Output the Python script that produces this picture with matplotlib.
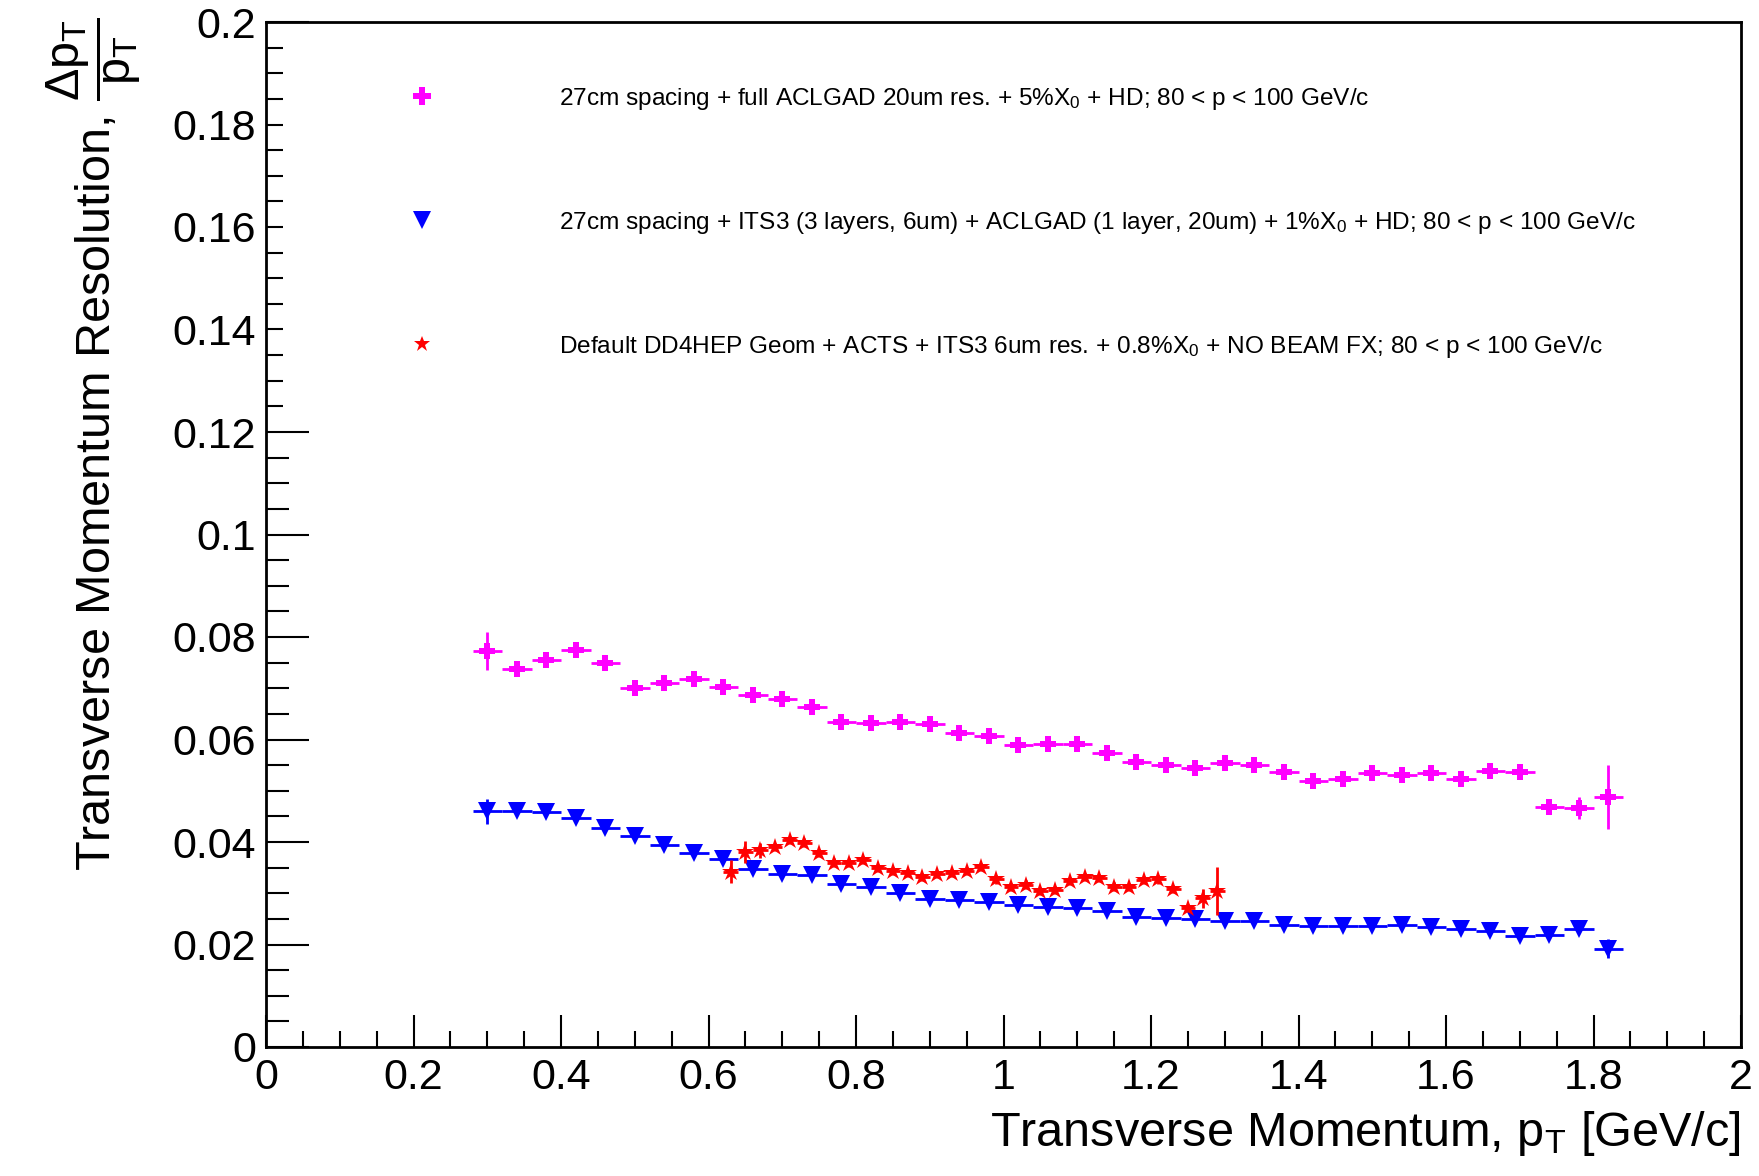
import matplotlib
matplotlib.use('Agg')
import matplotlib.pyplot as plt
from matplotlib.lines import Line2D
from matplotlib.patches import Rectangle
from matplotlib.ticker import FixedLocator, MultipleLocator

# ---------------- data ----------------
x_wide = [0.30, 0.34, 0.38, 0.42, 0.46, 0.50, 0.54, 0.58, 0.62, 0.66, 0.70, 0.74,
          0.78, 0.82, 0.86, 0.90, 0.94, 0.98, 1.02, 1.06, 1.10, 1.14, 1.18, 1.22,
          1.26, 1.30, 1.34, 1.38, 1.42, 1.46, 1.50, 1.54, 1.58, 1.62, 1.66, 1.70,
          1.74, 1.78, 1.82]
halfbin_wide = 0.02

acl_y = [0.0773, 0.0737, 0.0755, 0.0775, 0.0750, 0.0700, 0.0711, 0.0719, 0.0702,
         0.0687, 0.0680, 0.0664, 0.0635, 0.0633, 0.0634, 0.0630, 0.0612, 0.0607,
         0.0589, 0.0591, 0.0591, 0.0573, 0.0556, 0.0550, 0.0545, 0.0554, 0.0550,
         0.0537, 0.0519, 0.0522, 0.0534, 0.0531, 0.0534, 0.0523, 0.0539, 0.0537,
         0.0468, 0.0466, 0.0488]
acl_err = [0.0037] + [0.0012] * 36 + [0.0022, 0.0063]

its_y = [0.0460, 0.0460, 0.0459, 0.0447, 0.0428, 0.0412, 0.0394, 0.0379, 0.0367,
         0.0347, 0.0338, 0.0335, 0.0319, 0.0312, 0.0300, 0.0289, 0.0287, 0.0282,
         0.0278, 0.0274, 0.0272, 0.0265, 0.0254, 0.0252, 0.0249, 0.0246, 0.0245,
         0.0238, 0.0236, 0.0236, 0.0236, 0.0238, 0.0234, 0.0231, 0.0226, 0.0217,
         0.0218, 0.0230, 0.0192]
its_err = [0.0024] + [0.0007] * 37 + [0.0019]

x_fine = [0.63, 0.65, 0.67, 0.69, 0.71, 0.73, 0.75, 0.77, 0.79, 0.81, 0.83, 0.85,
          0.87, 0.89, 0.91, 0.93, 0.95, 0.97, 0.99, 1.01, 1.03, 1.05, 1.07, 1.09,
          1.11, 1.13, 1.15, 1.17, 1.19, 1.21, 1.23, 1.25, 1.27, 1.29]
halfbin_fine = 0.01
dd4_y = [0.0342, 0.0381, 0.0384, 0.0391, 0.0404, 0.0399, 0.0378, 0.0360, 0.0360,
         0.0365, 0.0349, 0.0343, 0.0339, 0.0332, 0.0338, 0.0339, 0.0343, 0.0352,
         0.0327, 0.0312, 0.0317, 0.0305, 0.0306, 0.0324, 0.0331, 0.0330, 0.0313,
         0.0312, 0.0326, 0.0327, 0.0309, 0.0271, 0.0290, 0.0305]
dd4_err = [0.0022, 0.0021, 0.0015] + [0.0008] * 29 + [0.0018, 0.0047]

labels = [
    r'27cm spacing + full ACLGAD 20um res. + 5%X$_{0}$ + HD; 80 < p < 100 GeV/c',
    r'27cm spacing + ITS3 (3 layers, 6um) + ACLGAD (1 layer, 20um) + 1%X$_{0}$ + HD; 80 < p < 100 GeV/c',
    r'Default DD4HEP Geom + ACTS + ITS3 6um res. + 0.8%X$_{0}$ + NO BEAM FX; 80 < p < 100 GeV/c',
]

xticks = [0, 0.2, 0.4, 0.6, 0.8, 1.0, 1.2, 1.4, 1.6, 1.8, 2.0]
xtick_labels = ['0', '0.2', '0.4', '0.6', '0.8', '1', '1.2', '1.4', '1.6', '1.8', '2']
yticks = [0, 0.02, 0.04, 0.06, 0.08, 0.10, 0.12, 0.14, 0.16, 0.18, 0.20]
ytick_labels = ['0', '0.02', '0.04', '0.06', '0.08', '0.1', '0.12', '0.14', '0.16', '0.18', '0.2']

MAG = '#ff00ff'
BLU = '#0000ff'
RED = '#ff0000'

# ---------------- style ----------------
plt.rcParams['font.family'] = ['Liberation Sans', 'DejaVu Sans']
plt.rcParams['mathtext.fontset'] = 'custom'
plt.rcParams['mathtext.rm'] = 'Liberation Sans'
plt.rcParams['mathtext.it'] = 'Liberation Sans'
plt.rcParams['mathtext.bf'] = 'Liberation Sans:bold'
plt.rcParams['mathtext.sf'] = 'Liberation Sans'

W, H = 1759, 1176
fig = plt.figure(figsize=(W / 100, H / 100), dpi=100)
L, R, T, B = 266, 1741, 22, 1047
ax = fig.add_axes([L / W, 1 - B / H, (R - L) / W, (B - T) / H])

ax.errorbar(x_wide, acl_y, xerr=halfbin_wide, yerr=acl_err, fmt='P', color=MAG,
            ms=12, mew=0, elinewidth=2, capsize=0, zorder=3)
ax.errorbar(x_wide, its_y, xerr=halfbin_wide, yerr=its_err, fmt='v', color=BLU,
            ms=12.5, mew=0, elinewidth=2, capsize=0, zorder=3)
ax.errorbar(x_fine, dd4_y, xerr=halfbin_fine, yerr=dd4_err, fmt='*', color=RED,
            ms=13.5, mew=0, elinewidth=2, capsize=0, zorder=4)

ax.set_xlim(0, 2)
ax.set_ylim(0, 0.2)
ax.xaxis.set_major_locator(FixedLocator(xticks))
ax.set_xticklabels(xtick_labels)
ax.xaxis.set_minor_locator(MultipleLocator(0.05))
ax.yaxis.set_major_locator(FixedLocator(yticks))
ax.set_yticklabels(ytick_labels)
ax.yaxis.set_minor_locator(MultipleLocator(0.005))

ax.tick_params(which='both', direction='in', top=False, right=False, width=1.5,
               labelsize=31, colors='black')
ax.tick_params(axis='x', which='major', length=23, pad=8)
ax.tick_params(axis='x', which='minor', length=11.5)
ax.tick_params(axis='y', which='major', length=31, pad=7)
ax.tick_params(axis='y', which='minor', length=16.5)
for s in ax.spines.values():
    s.set_linewidth(2)

# white legend pad (covers the inner part of the ticks as in the original)
ax.add_patch(Rectangle((0.0117, 0.623), 0.9, 0.373, transform=ax.transAxes,
                       facecolor='white', edgecolor='none', zorder=1.6))

ax.set_xlabel(r'Transverse Momentum, p$_{T}$ [GeV/c]', fontsize=35, loc='right',
              va='baseline')
ax.xaxis.set_label_coords(1.0, -(1146 - B) / (B - T))
ax.set_ylabel(r'Transverse Momentum Resolution, $\dfrac{\Delta p_{T}}{p_{T}}$',
              fontsize=35, loc='top', va='baseline')
ax.yaxis.set_label_coords((111 - L) / (R - L), 1.005)

handles = [
    Line2D([], [], ls='none', marker='P', color=MAG, ms=12.5, mew=0),
    Line2D([], [], ls='none', marker='v', color=BLU, ms=13, mew=0),
    Line2D([], [], ls='none', marker='*', color=RED, ms=12, mew=0),
]
F = 17.6
Fpx = F * 100 / 72
leg = ax.legend(handles, labels, loc='upper left',
                bbox_to_anchor=((422 - Fpx - L) / (R - L), 1 - (86 - T) / (B - T)),
                frameon=False, handlelength=2, handletextpad=(137 - Fpx) / Fpx,
                labelspacing=4.0, borderpad=0, borderaxespad=0,
                prop={'family': 'Liberation Sans', 'size': F})

fig.savefig('out.png', dpi=100, facecolor='white')
